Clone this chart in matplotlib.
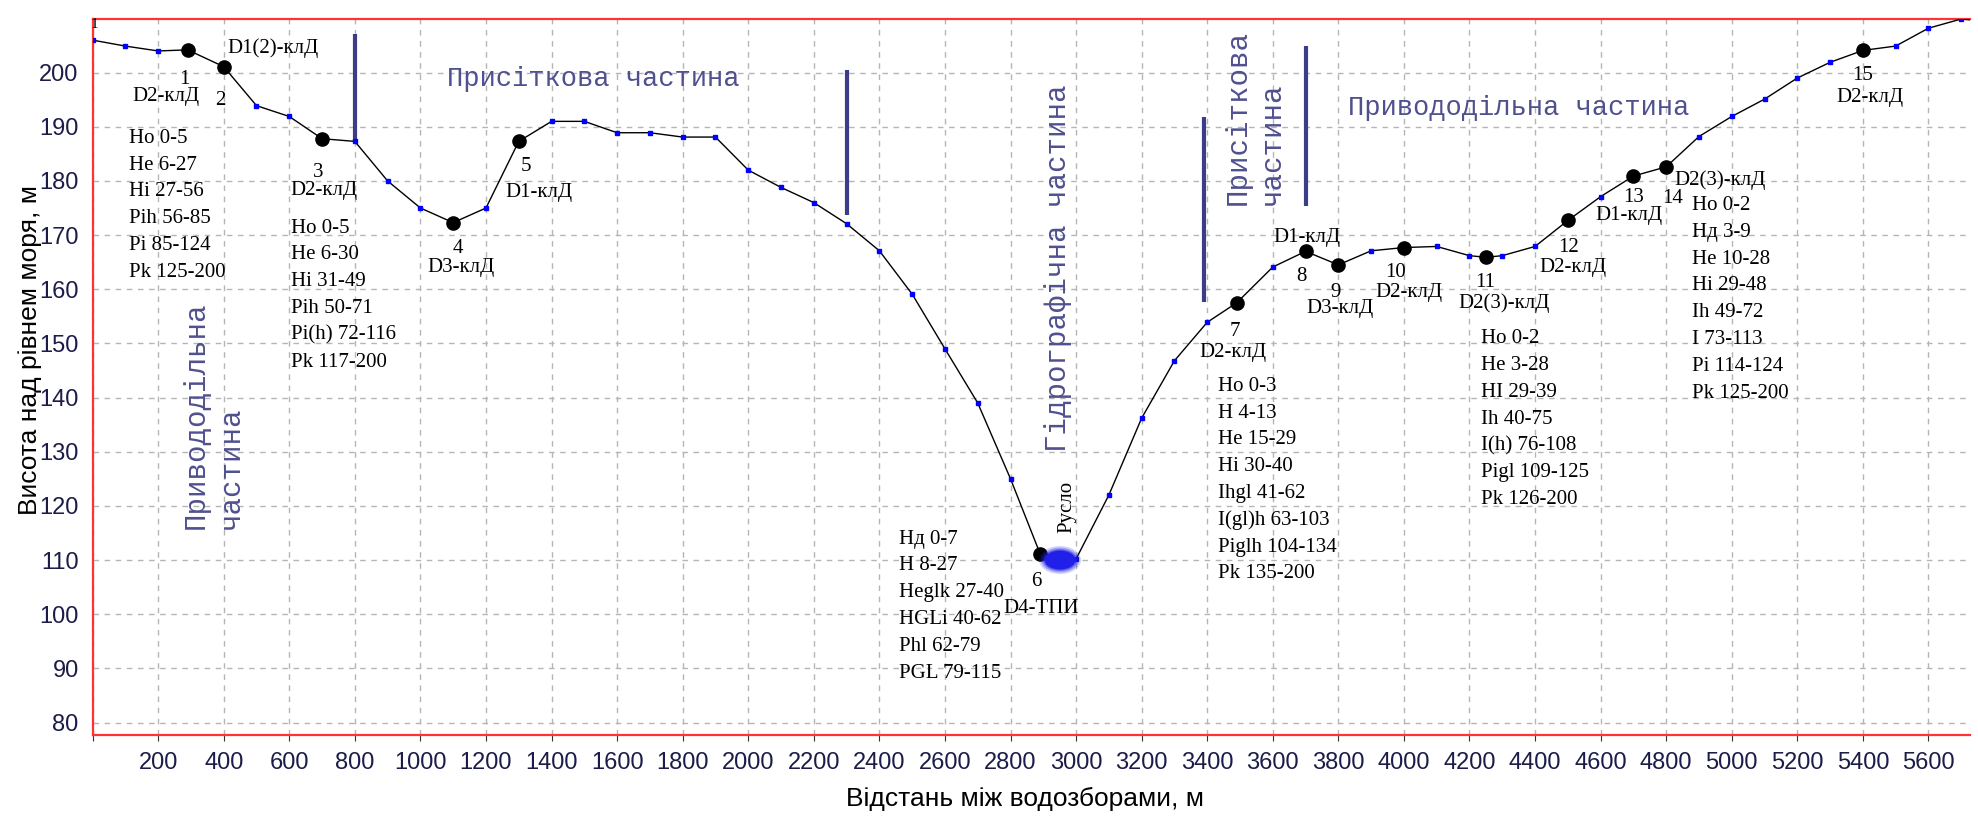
import matplotlib
matplotlib.use('Agg')
import matplotlib.pyplot as plt
from matplotlib.patches import Ellipse

# profile across the valley: distance (m) and elevation (m)
dist = [0, 100, 200, 290, 400, 500, 600, 700, 800, 900, 1000, 1100, 1200, 1300,
        1400, 1500, 1600, 1700, 1800, 1900, 2000, 2100, 2200, 2300, 2400, 2500,
        2600, 2700, 2800, 2890, 3000, 3100, 3200, 3300, 3400, 3490, 3600, 3700,
        3800, 3900, 4000, 4100, 4200, 4250, 4300, 4400, 4500, 4600, 4700, 4800,
        4900, 5000, 5100, 5200, 5300, 5400, 5500, 5600, 5700, 5800]
elev = [206.0, 204.9, 204.0, 204.2, 201.1, 193.9, 191.9, 187.8, 187.3, 180.0,
        175.0, 172.3, 175.0, 187.3, 191.0, 191.0, 188.9, 188.9, 188.1, 188.1,
        182.0, 178.8, 176.0, 172.1, 167.1, 159.1, 149.0, 139.0, 125.0, 111.2,
        110.2, 122.0, 136.2, 146.8, 153.9, 157.5, 164.1, 167.0, 164.5, 167.1,
        167.7, 167.9, 166.2, 165.9, 166.2, 167.9, 172.7, 177.1, 180.9, 182.6,
        188.2, 191.9, 195.1, 199.0, 201.9, 204.1, 204.9, 208.2, 209.9, 209.3]

# sampling points (number, distance, rock index)
pt_num = ['1', '2', '3', '4', '5', '6', '7', '8', '9', '10', '11', '12', '13', '14', '15']
pt_dist = [290, 400, 700, 1100, 1300, 2890, 3490, 3700, 3800, 4000, 4250, 4500, 4700, 4800, 5400]
pt_rock = ['D2-клД', 'D1(2)-клД', 'D2-клД', 'D3-клД', 'D1-клД', 'D4-ТПИ', 'D2-клД',
           'D1-клД', 'D3-клД', 'D2-клД', 'D2(3)-клД', 'D2-клД', 'D1-клД', 'D2(3)-клД', 'D2-клД']

# label placement (centre of text) for numbers and rock indices
num_xy = [(280, 199.2), (391, 195.3), (689, 182.0), (1113, 167.9), (1322, 183.0),
          (2878, 106.4), (3485, 152.6), (3687, 162.7), (3790, 159.9), (3973, 163.5),
          (4248, 161.7), (4502, 168.2), (4702, 177.4), (4820, 177.1), (5400, 199.8)]
rock_xy = [(223, 196.1), (551, 204.8), (705, 178.7), (1123, 164.5), (1363, 178.2),
           (2892, 101.4), (3478, 148.8), (3704, 169.9), (3804, 156.9), (4014, 159.9),
           (4304, 157.7), (4517, 164.5), (4685, 174.0), (4965, 180.5), (5422, 195.9)]

# soil horizon descriptions (depth, cm)
soil_1 = ['Ho 0-5', 'He 6-27', 'Hi 27-56', 'Pih 56-85', 'Pi 85-124', 'Pk 125-200']
soil_3 = ['Ho 0-5', 'He 6-30', 'Hi 31-49', 'Pih 50-71', 'Pi(h) 72-116', 'Pk 117-200']
soil_6 = ['Нд 0-7', 'H 8-27', 'Heglk 27-40', 'HGLi 40-62', 'Phl 62-79', 'PGL 79-115']
soil_7 = ['Ho 0-3', 'H 4-13', 'He 15-29', 'Hi 30-40', 'Ihgl 41-62', 'I(gl)h 63-103',
          'Piglh 104-134', 'Pk 135-200']
soil_11 = ['Ho 0-2', 'He 3-28', 'HI 29-39', 'Ih 40-75', 'I(h) 76-108', 'Pigl 109-125',
           'Pk 126-200']
soil_14 = ['Ho 0-2', 'Нд 3-9', 'He 10-28', 'Hi 29-48', 'Ih 49-72', 'I 73-113',
           'Pi 114-124', 'Pk 125-200']
soil_blocks = [(soil_1, 112, 188.3), (soil_3, 605, 171.7), (soil_6, 2460, 114.3),
               (soil_7, 3432, 142.5), (soil_11, 4235, 151.3), (soil_14, 4880, 175.9)]

# boundaries between parts of the slope: x, bottom, top
bounds_x = [800, 2300, 3390, 3700]
bounds_lo = [187.3, 173.7, 157.6, 175.3]
bounds_hi = [207.1, 200.5, 191.8, 204.9]

serif = 'Liberation Serif'
mono = 'Liberation Mono'
part_col = '#50508f'

fig = plt.figure(figsize=(19.78, 8.19), dpi=100)
ax = fig.add_axes([0.0468, 0.1026, 0.9492, 0.8742])

ax.set_xlim(0, 5727)
ax.set_ylim(77.7, 209.9)

ax.set_xticks(range(0, 5601, 200))
ax.set_xticklabels([''] + [str(v) for v in range(200, 5601, 200)])
ax.set_yticks(range(80, 201, 10))
ax.grid(True, color='#b5b5b5', linestyle=(0, (4, 4)), linewidth=1.0)
ax.set_axisbelow(True)

for s in ['left', 'top', 'bottom']:
    ax.spines[s].set_color('#ff3333')
    ax.spines[s].set_linewidth(1.6)
ax.spines['right'].set_visible(False)

ax.tick_params(axis='x', length=4, color='#333333', pad=8)
ax.tick_params(axis='y', length=0, pad=10)
for lab in ax.get_xticklabels() + ax.get_yticklabels():
    lab.set_fontfamily(['Liberation Sans Narrow', 'Liberation Sans'])
    lab.set_fontsize(17)
    lab.set_color('#1c1c48')

ax.set_xlabel('Відстань між водозборами, м', fontsize=19, family='Liberation Sans')
ax.xaxis.set_label_coords(0.4966, -0.089)
ax.xaxis.label.set_va('center')
ax.set_ylabel('Висота над рівнем моря, м', fontsize=19, family='Liberation Sans')
ax.yaxis.set_label_coords(-0.0333, 0.538)
ax.yaxis.label.set_va('center')

# profile line with blue sample marks
ax.plot(dist, elev, color='black', linewidth=1.0, marker='s', markersize=3,
        markerfacecolor='#0000ff', markeredgecolor='#0000ff', zorder=3)

# sampling points
pt_elev = [elev[dist.index(d)] for d in pt_dist]
ax.plot(pt_dist, pt_elev, 'o', color='black', markersize=9.5, zorder=4, linestyle='none')

# river bed
for w, h, a in [(128, 5.2, 0.18), (116, 4.6, 0.3), (104, 4.0, 0.5), (94, 3.5, 1.0)]:
    ax.add_patch(Ellipse((2951, 110.0), w, h, facecolor='#2020e8', edgecolor='none',
                         alpha=a, zorder=5))

shift = 1.25  # baseline below visual centre, y units
for n, (x, y) in zip(pt_num, num_xy):
    ax.text(x, y - shift, n, family=serif, fontsize=15, ha='center', va='baseline', zorder=6)
for r, (x, y) in zip(pt_rock, rock_xy):
    ax.text(x, y - shift, r, family=serif, fontsize=15, ha='center', va='baseline', zorder=6)
ax.text(7, 208.8, '1', family=serif, fontsize=11, ha='center', va='center')

for lines, x0, y0 in soil_blocks:
    for i, s in enumerate(lines):
        ax.text(x0, y0 - i * 4.95 - shift, s, family=serif, fontsize=15,
                ha='left', va='baseline', zorder=6)

ax.text(2971, 115.0, 'Русло', family=serif, fontsize=15, rotation=90,
        ha='center', va='bottom', zorder=6)

# slope parts
ax.vlines(bounds_x, bounds_lo, bounds_hi, colors='#3c3c88', linewidth=3, zorder=2)
ax.text(1527, 198.8, 'Присіткова частина', family=mono, fontsize=19.5,
        color=part_col, ha='center', va='center')
ax.text(4351, 193.4, 'Привододільна частина', family=mono, fontsize=19.5,
        color=part_col, ha='center', va='center')
ax.text(314, 115.8, 'Привододільна', family=mono, fontsize=21, color=part_col,
        rotation=90, ha='center', va='bottom')
ax.text(422, 115.8, 'частина', family=mono, fontsize=21, color=part_col,
        rotation=90, ha='center', va='bottom')
ax.text(2944, 130.0, 'Гідрографічна частина', family=mono, fontsize=21,
        color=part_col, rotation=90, ha='center', va='bottom')
ax.text(3494, 175.6, 'Присіткова', family=mono, fontsize=21, color=part_col,
        rotation=90, ha='center', va='bottom')
ax.text(3598, 175.6, 'частина', family=mono, fontsize=21, color=part_col,
        rotation=90, ha='center', va='bottom')

fig.savefig('out.png', dpi=100)
